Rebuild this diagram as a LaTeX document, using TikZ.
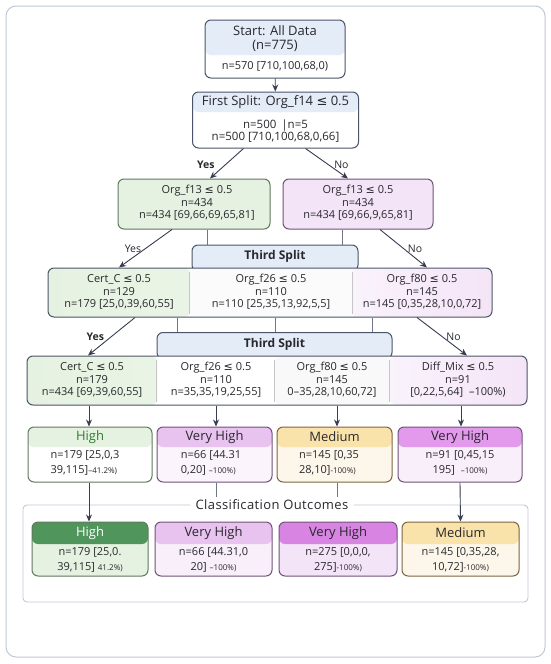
\documentclass[tikz,border=0pt]{standalone}
\usepackage{fontspec}
\setmainfont{Open Sans}
\newfontfamily\symfont{DejaVu Sans}
\usetikzlibrary{arrows.meta,positioning,calc}
\definecolor{slate}{RGB}{75,85,104}
\definecolor{arrowcol}{RGB}{55,62,82}
\definecolor{textcol}{RGB}{40,40,45}
\definecolor{bluehd}{RGB}{228,236,248}
\definecolor{greenlt}{RGB}{230,242,225}
\definecolor{greenbd}{RGB}{95,120,95}
\definecolor{greentx}{RGB}{46,125,50}
\definecolor{greendk}{RGB}{80,150,92}
\definecolor{purplelt}{RGB}{244,228,247}
\definecolor{purplebd}{RGB}{112,82,118}
\definecolor{purplehd}{RGB}{233,195,240}
\definecolor{magentahd}{RGB}{228,154,236}
\definecolor{magentadk}{RGB}{216,132,226}
\definecolor{yellowhd}{RGB}{250,227,170}
\definecolor{yellowlt}{RGB}{253,247,235}
\definecolor{yellowbd}{RGB}{125,100,60}
\definecolor{framecol}{RGB}{190,200,215}
\newcommand{\lesign}{{\symfont\char"2264}}
\newcommand{\pct}[1]{{\fontsize{8}{9}\selectfont #1}}

\tikzset{
    tbox/.style={draw=#1, fill=white, rounded corners=6pt, line width=1pt, inner sep=0pt},
    head/.style 2 args={path picture={
        \fill[#1] (path picture bounding box.north west) rectangle ([yshift=-#2]path picture bounding box.north east);}},
    lbl/.style={font=\fontsize{11}{12.5}\selectfont, text=textcol, align=center, inner sep=0pt},
    hdlbl/.style={font=\fontsize{13}{14}\selectfont, text=textcol, align=center, inner sep=0pt},
    arr/.style={-{Stealth[length=7pt,width=6pt]}, line width=0.9pt, draw=arrowcol},
    link/.style={line width=0.9pt, draw=slate!80},
    divider/.style={line width=0.6pt, draw=gray!45},
    yesno/.style={font=\fontsize{10.5}{12}\selectfont, text=textcol, inner sep=0pt},
}

\begin{document}
\begin{tikzpicture}[x=1pt, y=-1pt]
    \useasboundingbox (0,0) rectangle (550,664);
    % Outer frame
    \draw[framecol, line width=1pt, rounded corners=10pt] (6,6) rectangle (545,657);

    % Start
    \node[tbox=slate, head={bluehd}{35pt}, minimum width=140pt, minimum height=58pt] (start) at (275,49) {};
    \node[hdlbl] (starthd) at (275,39) {Start: All Data\\(n=775)};
    \node[lbl] (startbd) at (275,66.5) {n=570 [710,100,68,0)};

    % First split
    \node[tbox=slate, head={bluehd}{20pt}, minimum width=166pt, minimum height=56pt] (split1) at (275.5,120) {};
    \node[hdlbl] (split1hd) at (275.5,102.5) {First Split: Org\_f14 \lesign{} 0.5};
    \node[lbl, font=\fontsize{11.5}{12.5}\selectfont] (split1bd) at (275.5,131) {n=500 \,|n=5\\n=500 [710,100,68,0,66]};
    \draw[arr] (start) -- (split1);

    % Second level
    \node[tbox=greenbd, fill=greenlt, minimum width=152pt, minimum height=50pt] (l2a) at (194,204) {};
    \node[lbl] (l2atx) at (197,203) {Org\_f13 \lesign{} 0.5\\n=434\\n=434 [69,66,69,65,81]};
    \node[tbox=purplebd, fill=purplelt, minimum width=150pt, minimum height=50pt] (l2b) at (358,204) {};
    \node[lbl] (l2btx) at (358,203) {Org\_f13 \lesign{} 0.5\\n=434\\n=434 [69,66,9,65,81]};
    \draw[arr] ([xshift=-32pt]split1.south) -- ([xshift=16pt]l2a.north) node[yesno, pos=0.55, left=10pt, font=\fontsize{10.5}{12}\selectfont\bfseries] {Yes};
    \draw[arr] ([xshift=30pt]split1.south) -- ([xshift=-10pt]l2b.north) node[yesno, pos=0.55, right=5pt] {No};

    % Third split (row 3)
    \node[tbox=slate, fill=bluehd, minimum width=166pt, minimum height=26pt] (ts1) at (275,258) {};
    \node[lbl, font=\fontsize{12}{13}\selectfont\bfseries] (ts1tx) at (275,256.5) {Third Split};
    \draw[link] ([xshift=13pt]l2a.south) -- ([xshift=13pt]l2a.south |- ts1.north);
    \draw[link] ([xshift=-16pt]l2b.south) -- ([xshift=-16pt]l2b.south |- ts1.north);
    \node[tbox=slate, fill=gray!3, minimum width=444pt, minimum height=49pt,
        path picture={
            \shade[left color=greenlt, right color=greenlt!45] (path picture bounding box.north west) rectangle ([xshift=142pt]path picture bounding box.south west);
            \shade[left color=purplelt!45, right color=purplelt] ([xshift=-140pt]path picture bounding box.north east) rectangle (path picture bounding box.south east);
        }] (row3) at (270,292.5) {};
    \draw[divider] ([xshift=142pt,yshift=-4pt]row3.north west) -- ([xshift=142pt,yshift=4pt]row3.south west);
    \draw[divider] ([xshift=-140pt,yshift=-4pt]row3.north east) -- ([xshift=-140pt,yshift=4pt]row3.south east);
    \node[lbl] (r3a) at (119,292) {Cert\_C \lesign{} 0.5\\n=129\\n=179 [25,0,39,60,55]};
    \node[lbl] (r3b) at (271,292) {Org\_f26 \lesign{} 0.5\\n=110\\n=110 [25,35,13,92,5,5]};
    \node[lbl] (r3c) at (422,292) {Org\_f80 \lesign{} 0.5\\n=145\\n=145 [0,35,28,10,0,72]};
    \draw[arr] ([xshift=-22pt]l2a.south) -- (r3a |- row3.north) node[yesno, midway, left=4pt] {Yes};
    \draw[arr] ([xshift=22pt]l2b.south) -- ([xshift=5pt]r3c |- row3.north) node[yesno, midway, right=4pt] {No};

    % Third split (row 4)
    \node[tbox=slate, fill=bluehd, minimum width=235pt, minimum height=26pt] (ts2) at (274.5,345.5) {};
    \node[lbl, font=\fontsize{12}{13}\selectfont\bfseries] (ts2tx) at (274.5,344) {Third Split};
    \foreach \dx in {-93,5,102} {
        \draw[link] ([xshift=\dx pt]row3.south) -- ([xshift=\dx pt]row3.south |- ts2.north);
    }
    \node[tbox=slate, fill=white, minimum width=500pt, minimum height=49pt,
        path picture={
            \shade[left color=greenlt, right color=greenlt!45] (path picture bounding box.north west) rectangle ([xshift=130pt]path picture bounding box.south west);
            \fill[gray!5] ([xshift=248pt]path picture bounding box.north west) rectangle ([xshift=-137pt]path picture bounding box.south east);
            \shade[left color=purplelt!45, right color=purplelt] ([xshift=-137pt]path picture bounding box.north east) rectangle (path picture bounding box.south east);
        }] (row4) at (277,380.5) {};
    \foreach \dx in {130,248,363} {
        \draw[divider] ([xshift=\dx pt,yshift=-4pt]row4.north west) -- ([xshift=\dx pt,yshift=4pt]row4.south west);
    }
    \node[lbl] (r4a) at (92,380) {Cert\_C \lesign{} 0.5\\n=179\\n=434 [69,39,60,55]};
    \node[lbl] (r4b) at (216,380) {Org\_f26 \lesign{} 0.5\\n=110\\n=35,35,19,25,55]};
    \node[lbl] (r4c) at (332,380) {Org\_f80 \lesign{} 0.5\\n=145\\0--35,28,10,60,72]};
    \node[lbl] (r4d) at (458,380) {Diff\_Mix \lesign{} 0.5\\n=91\\{}[0,22,5,64] \ --100\%)};
    \draw[arr] ([xshift=-135pt]row3.south) -- ([xshift=-4pt]r4a |- row4.north) node[yesno, midway, left=7pt, font=\fontsize{10.5}{12}\selectfont\bfseries] {Yes};
    \draw[arr] ([xshift=147pt]row3.south) -- ([xshift=9pt]r4d |- row4.north) node[yesno, midway, right=4pt] {No};

    % Leaf outcomes
    \node[tbox=greenbd, head={greenlt}{20pt}, minimum width=124pt, minimum height=55pt] (o1) at (90,454.5) {};
    \node[tbox=purplebd, fill=purplelt!40, head={purplehd}{20pt}, minimum width=115pt, minimum height=55pt] (o2) at (214.5,454.5) {};
    \node[tbox=yellowbd, fill=yellowlt, head={yellowhd}{20pt}, minimum width=115pt, minimum height=55pt] (o3) at (334.5,454.5) {};
    \node[tbox=purplebd, fill=purplelt!60, head={magentahd}{20pt}, minimum width=124pt, minimum height=55pt] (o4) at (460,454.5) {};
    \node[hdlbl, text=greentx] (o1hd) at (90,437) {High};
    \node[hdlbl] (o2hd) at (214.5,437) {Very High};
    \node[hdlbl] (o3hd) at (334.5,437) {Medium};
    \node[hdlbl] (o4hd) at (460,437) {Very High};
    \node[lbl, align=left, font=\fontsize{11}{15}\selectfont] (o1bd) at (85,462.5) {n=179 [25,0,3\\39,115]\pct{--41.2\%)}};
    \node[lbl, align=left, font=\fontsize{11}{15}\selectfont] (o2bd) at (211,462.5) {n=66 [44.31\\0,20] \pct{--100\%)}};
    \node[lbl, align=left, font=\fontsize{11}{15}\selectfont] (o3bd) at (329,462.5) {n=145 [0,35\\28,10]\pct{-100\%)}};
    \node[lbl, font=\fontsize{11}{15}\selectfont] (o4bd) at (460,462.5) {n=91 [0,45,15\\195] \ \pct{--100\%)}};
    \foreach \o/\dx in {o1/-1,o2/1.5,o3/2.5,o4/1} {
        \draw[arr] ([xshift=\dx pt]\o.north |- row4.south) -- ([xshift=\dx pt]\o.north);
    }

    % Classification outcomes
    \draw[framecol, line width=0.9pt, rounded corners=4pt] (23,505) rectangle (528,602);
    \node[lbl, fill=white, inner xsep=6pt, inner ysep=2pt, font=\fontsize{13}{14}\selectfont\addfontfeatures{LetterSpace=3}] (clstitle) at (272,505) {Classification Outcomes};
    \node[tbox=greenbd, fill=greenlt, head={greendk}{22pt}, minimum width=116pt, minimum height=54pt] (f1) at (90,549) {};
    \node[tbox=purplebd, fill=purplelt!60, head={purplehd}{22pt}, minimum width=117pt, minimum height=54pt] (f2) at (213.5,549) {};
    \node[tbox=purplebd, fill=purplelt, head={magentadk}{22pt}, minimum width=118pt, minimum height=54pt] (f3) at (338,549) {};
    \node[tbox=yellowbd, fill=yellowlt, head={yellowhd}{22pt}, minimum width=117pt, minimum height=54pt] (f4) at (460.5,549) {};
    \node[hdlbl, text=white] (f1hd) at (90,533) {High};
    \node[hdlbl] (f2hd) at (213.5,533) {Very High};
    \node[hdlbl] (f3hd) at (338,533) {Very High};
    \node[hdlbl] (f4hd) at (460.5,533) {Medium};
    \node[lbl, font=\fontsize{11}{15}\selectfont] (f1bd) at (90,559.5) {n=179 [25,0.\\39,115] \pct{41.2\%)}};
    \node[lbl, font=\fontsize{11}{15}\selectfont] (f2bd) at (213.5,559.5) {n=66 [44.31,0\\20] \pct{--100\%)}};
    \node[lbl, font=\fontsize{11}{15}\selectfont] (f3bd) at (338,559.5) {n=275 [0,0,0,\\275]\pct{-100\%)}};
    \node[lbl, font=\fontsize{11}{15}\selectfont] (f4bd) at (460.5,559.5) {n=145 [0,35,28,\\10,72]\pct{-100\%)}};
    \coordinate (o2end) at ([xshift=1.5pt]o2.south |- 0,497);
    \coordinate (o3end) at ([xshift=2.5pt]o3.south |- 0,497);
    \draw[arr] ([xshift=-1pt]o1.south) -- ([xshift=-1pt]f1.north);
    \draw[link] ([xshift=1.5pt]o2.south) -- (o2end);
    \draw[link] ([xshift=2.5pt]o3.south) -- (o3end);
    \draw[arr] (o4.south) -- (f4.north);
\end{tikzpicture}
\end{document}
